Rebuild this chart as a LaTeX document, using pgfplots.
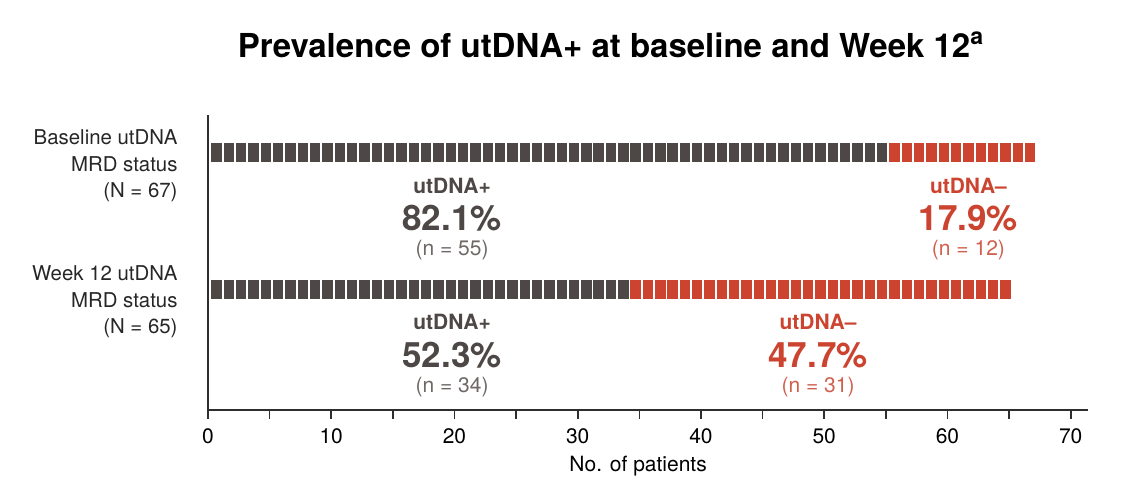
\documentclass[border=0pt]{standalone}
\usepackage{pgfplots}
\pgfplotsset{compat=1.18}
\usepackage{fontspec}
\setmainfont{TeX Gyre Heros}

\definecolor{posgray}{HTML}{4D4846}
\definecolor{negred}{HTML}{CC4430}
\definecolor{ngray}{HTML}{6E6866}
\definecolor{nred}{HTML}{D0604E}
\definecolor{axisgray}{HTML}{2E2E2E}

% one patient = one small filled block
\pgfdeclareplotmark{cell}{%
  \pgfpathrectangle{\pgfqpoint{-2.6pt}{-4.75pt}}{\pgfqpoint{5.2pt}{9.5pt}}%
  \pgfusepathqfill}

\begin{document}
\begin{tikzpicture}
\path[use as bounding box] (0,0) rectangle (571pt,248pt);

\node[font=\fontsize{16.5}{18}\selectfont\bfseries] at (305.5pt,225.5pt)
  {Prevalence of utDNA+ at baseline and Week 12\textsuperscript{a}};

\begin{axis}[
    at={(104pt,43pt)}, anchor=south west,
    scale only axis, width=440pt, height=147.5pt,
    xmin=0, xmax=71.4, ymin=0, ymax=295,
    axis x line=bottom, axis y line=left,
    axis line style={-, axisgray, line width=1pt},
    xtick={0,10,...,70}, minor xtick={5,15,...,65}, ytick=\empty,
    tick align=outside, major tick length=4.5pt, minor tick length=4.5pt,
    every tick/.style={axisgray, line width=0.8pt},
    /pgf/number format/assume math mode=true,
    xticklabel style={font=\fontsize{10.5}{12}\selectfont, yshift=-1.5pt},
    xlabel={No. of patients},
    every axis x label/.style={at={(axis cs:34.9,0)}, anchor=center, yshift=-28pt,
      font=\fontsize{10.5}{12}\selectfont},
    clip=false,
  ]

% Baseline: utDNA+ (n = 55)
\addplot[only marks, mark=cell, color=posgray] coordinates {
(0.7,257)(1.7,257)(2.7,257)(3.7,257)(4.7,257)(5.7,257)(6.7,257)(7.7,257)(8.7,257)(9.7,257)
(10.7,257)(11.7,257)(12.7,257)(13.7,257)(14.7,257)(15.7,257)(16.7,257)(17.7,257)(18.7,257)(19.7,257)
(20.7,257)(21.7,257)(22.7,257)(23.7,257)(24.7,257)(25.7,257)(26.7,257)(27.7,257)(28.7,257)(29.7,257)
(30.7,257)(31.7,257)(32.7,257)(33.7,257)(34.7,257)(35.7,257)(36.7,257)(37.7,257)(38.7,257)(39.7,257)
(40.7,257)(41.7,257)(42.7,257)(43.7,257)(44.7,257)(45.7,257)(46.7,257)(47.7,257)(48.7,257)(49.7,257)
(50.7,257)(51.7,257)(52.7,257)(53.7,257)(54.7,257)
};
% Baseline: utDNA- (n = 12)
\addplot[only marks, mark=cell, color=negred] coordinates {
(55.7,257)(56.7,257)(57.7,257)(58.7,257)(59.7,257)(60.7,257)(61.7,257)(62.7,257)(63.7,257)(64.7,257)
(65.7,257)(66.7,257)
};
% Week 12: utDNA+ (n = 34)
\addplot[only marks, mark=cell, color=posgray] coordinates {
(0.7,120)(1.7,120)(2.7,120)(3.7,120)(4.7,120)(5.7,120)(6.7,120)(7.7,120)(8.7,120)(9.7,120)
(10.7,120)(11.7,120)(12.7,120)(13.7,120)(14.7,120)(15.7,120)(16.7,120)(17.7,120)(18.7,120)(19.7,120)
(20.7,120)(21.7,120)(22.7,120)(23.7,120)(24.7,120)(25.7,120)(26.7,120)(27.7,120)(28.7,120)(29.7,120)
(30.7,120)(31.7,120)(32.7,120)(33.7,120)
};
% Week 12: utDNA- (n = 31)
\addplot[only marks, mark=cell, color=negred] coordinates {
(34.7,120)(35.7,120)(36.7,120)(37.7,120)(38.7,120)(39.7,120)
(40.7,120)(41.7,120)(42.7,120)(43.7,120)(44.7,120)(45.7,120)(46.7,120)(47.7,120)(48.7,120)(49.7,120)
(50.7,120)(51.7,120)(52.7,120)(53.7,120)(54.7,120)(55.7,120)(56.7,120)(57.7,120)(58.7,120)(59.7,120)
(60.7,120)(61.7,120)(62.7,120)(63.7,120)(64.7,120)
};

% row labels
\node[anchor=east, align=right, font=\fontsize{10.2}{13.3}\selectfont, text=black!85]
  at (axis cs:-1.9,244) {Baseline utDNA\\MRD status\\(N = 67)};
\node[anchor=east, align=right, font=\fontsize{10.2}{13.3}\selectfont, text=black!85]
  at (axis cs:-1.9,108) {Week 12 utDNA\\MRD status\\(N = 65)};

% baseline annotations
\node[font=\fontsize{10.5}{12}\selectfont\bfseries, text=posgray] at (axis cs:19.8,224.5) {utDNA+};
\node[font=\fontsize{17.5}{19}\selectfont\bfseries, text=posgray] at (axis cs:19.8,191.5) {82.1\%};
\node[font=\fontsize{10.5}{12}\selectfont, text=ngray] at (axis cs:19.8,159.5) {(n = 55)};
\node[font=\fontsize{10.5}{12}\selectfont\bfseries, text=negred] at (axis cs:61.7,224.5) {utDNA--};
\node[font=\fontsize{17.5}{19}\selectfont\bfseries, text=negred] at (axis cs:61.7,191.5) {17.9\%};
\node[font=\fontsize{10.5}{12}\selectfont, text=nred] at (axis cs:61.7,159.5) {(n = 12)};

% week 12 annotations
\node[font=\fontsize{10.5}{12}\selectfont\bfseries, text=posgray] at (axis cs:19.8,88) {utDNA+};
\node[font=\fontsize{17.5}{19}\selectfont\bfseries, text=posgray] at (axis cs:19.8,55) {52.3\%};
\node[font=\fontsize{10.5}{12}\selectfont, text=ngray] at (axis cs:19.8,23) {(n = 34)};
\node[font=\fontsize{10.5}{12}\selectfont\bfseries, text=negred] at (axis cs:49.5,88) {utDNA--};
\node[font=\fontsize{17.5}{19}\selectfont\bfseries, text=negred] at (axis cs:49.5,55) {47.7\%};
\node[font=\fontsize{10.5}{12}\selectfont, text=nred] at (axis cs:49.5,23) {(n = 31)};

\end{axis}
\end{tikzpicture}
\end{document}
